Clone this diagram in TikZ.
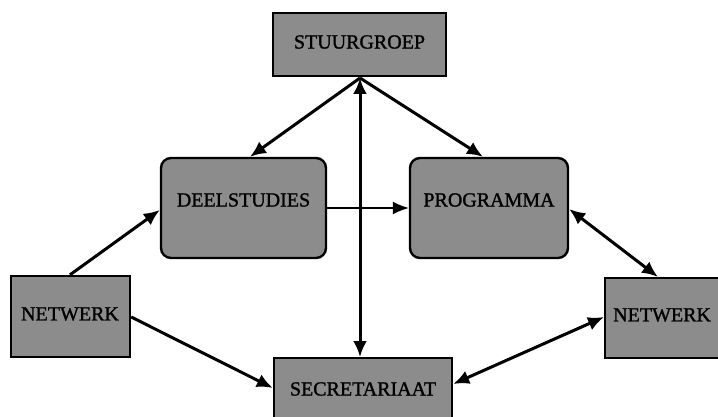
\documentclass[tikz,border=0pt]{standalone}
\usepackage{fontspec}
\setmainfont{Liberation Serif}
\newfontfamily\lblfont[FakeBold=1.3]{Liberation Serif}
\usetikzlibrary{arrows.meta}
\begin{document}
\begin{tikzpicture}[x=1pt,y=-1pt,
  box/.style={draw=black,line width=2.4pt,fill=black!45,inner sep=0pt},
  rbox/.style={box,rounded corners=10pt},
  lbl/.style={font=\lblfont\fontsize{20}{20}\selectfont,inner sep=0pt},
  link/.style={line width=3pt,-{Latex[length=16pt,width=14pt]}},
  dlink/.style={line width=3pt,{Latex[length=16pt,width=14pt]}-{Latex[length=16pt,width=14pt]}},
  thinlink/.style={line width=1.6pt,-{Latex[length=16pt,width=13pt]}}]
\useasboundingbox (0,0) rectangle (718,417);
% boxes (corners from the reference)
\node[box,minimum width=173pt,minimum height=63pt] (stuur) at (359.5,44.5) {};
\node[lbl] at (359.5,42) {STUURGROEP};
\node[rbox,minimum width=165pt,minimum height=100pt] (deel) at (243.5,208) {};
\node[lbl] at (243.5,200) {DEELSTUDIES};
\node[rbox,minimum width=158pt,minimum height=100pt] (prog) at (489,208) {};
\node[lbl] at (489,200) {PROGRAMMA};
\node[box,minimum width=119pt,minimum height=81pt] (netl) at (70.5,316.5) {};
\node[lbl] at (70,314) {NETWERK};
\node[box,minimum width=130pt,minimum height=80pt,anchor=north west] (netr) at (604,277) {};
\node[lbl,anchor=west] at (613,315) {NETWERK};
\node[box,minimum width=178pt,minimum height=90pt,anchor=north] (sec) at (363,357) {};
\node[lbl] at (363,389) {SECRETARIAAT};
% connectors
\coordinate (top) at (360,78);
\draw[dlink] (top) -- (sec.north -| top);
\draw[link] (top) -- (deel.north -| 250,0);
\draw[link] (top) -- (prog.north -| 483,0);
\draw[thinlink] (deel.east |- 0,208) -- (prog.west |- 0,208);
\draw[link] (netl.north -| 70,0) -- (deel.west |- 0,210);
\draw[link] (netl.east |- 0,317) -- (sec.west |- 0,388);
\draw[dlink] (prog.east |- 0,209) -- (netr.north -| 658,0);
\draw[dlink] (sec.east |- 0,384) -- (netr.west |- 0,317);
\end{tikzpicture}
\end{document}
